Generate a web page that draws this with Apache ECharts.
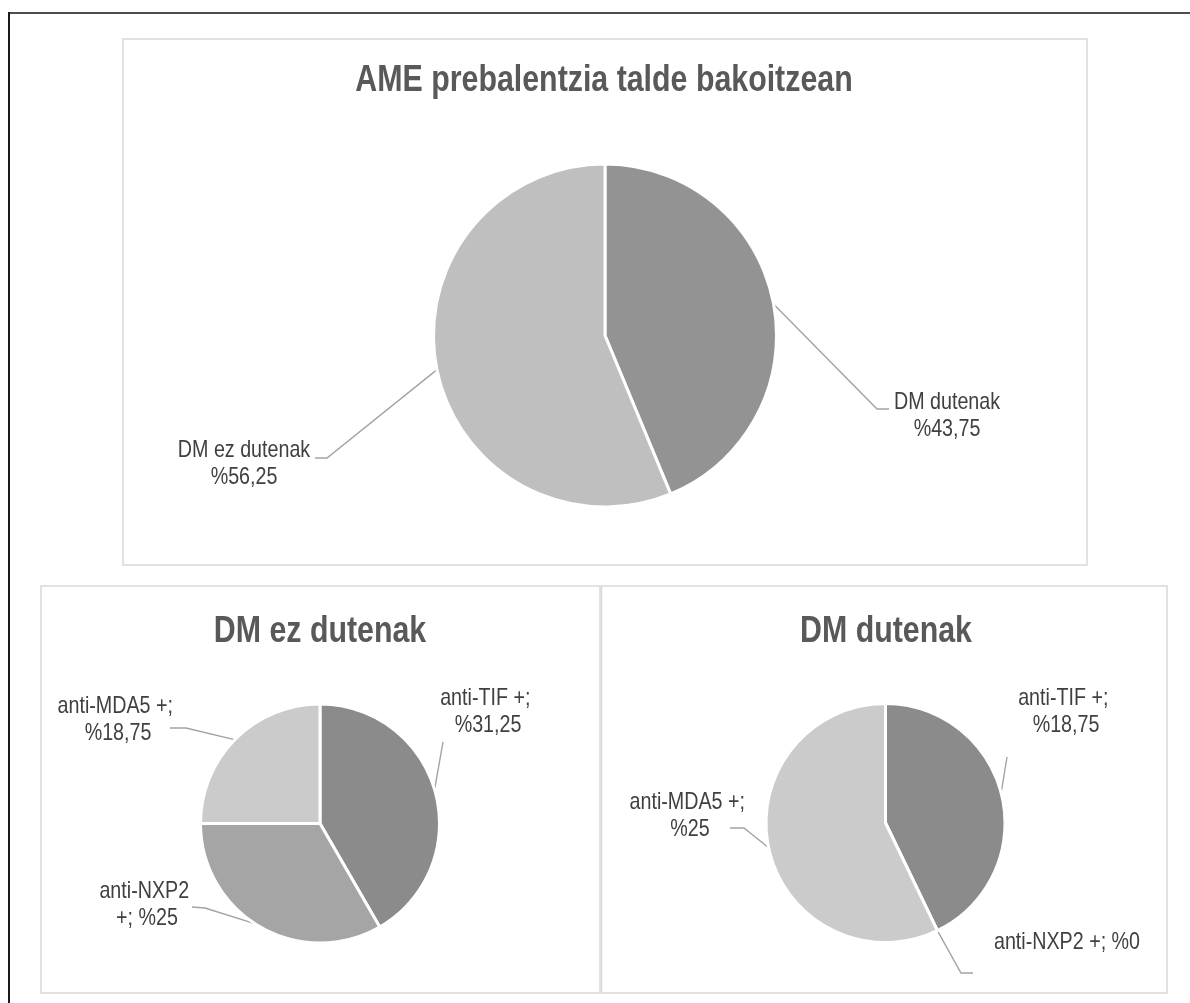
<!DOCTYPE html>
<html>
<head>
<meta charset="utf-8">
<script src="https://cdn.jsdelivr.net/npm/echarts@6/dist/echarts.min.js"></script>
<style>
  html, body { margin: 0; padding: 0; background: #ffffff; }
  #chart { width: 1190px; height: 1003px; }
</style>
</head>
<body>
<div id="chart"></div>
<script>
// AME prevalence per group, and the antibody split inside each group (percent of all patients)
const groupNames = ['DM dutenak', 'DM ez dutenak'];
const groupShares = [43.75, 56.25];
const antibodyNames = ['anti-TIF +', 'anti-NXP2 +', 'anti-MDA5 +'];
const sharesWithoutDM = [31.25, 25, 18.75];
const sharesWithDM = [18.75, 0, 25];
const chartTitles = ['AME prebalentzia talde bakoitzean', 'DM ez dutenak', 'DM dutenak'];

const FONT = "'Liberation Sans', Arial, sans-serif";
// horizontal squeeze that gives the regular face the proportions of a narrow face
const NARROW = 0.82;
const TITLE_COLOR = '#595959';
const LABEL_COLOR = '#404040';
const LEADER_COLOR = '#a3a3a3';
const groupColors = ['#939393', '#bfbfbf'];
const antibodyColors = ['#8b8b8b', '#a5a5a5', '#cbcbcb'];

// decimal comma, percent sign in front
const pct = v => '%' + String(v).replace('.', ',');

// pie geometry: centre and outer radius (the white slice outline eats half its width)
const pies = [
  { center: [605, 335.5], radius: 171.5, gap: 3 },
  { center: [320, 823.5], radius: 119.5, gap: 3 },
  { center: [885.5, 823], radius: 119.5, gap: 3 }
];

// label block centre, leader-line bend/end points and wrap width, per pie and slice
const labelPlacement = [
  [
    { at: [947, 416], bend: [877, 409], end: [889, 409] },
    { at: [244, 464], bend: [327, 458], end: [315, 458] }
  ],
  [
    { at: [488, 712], bend: [443, 742], end: [443, 742], width: 130 },
    { at: [147, 905], bend: [205, 908], end: [192, 907], width: 120 },
    { at: [118, 720], bend: [186, 728], end: [170, 728], width: 150 }
  ],
  [
    { at: [1066, 712], bend: [1007, 757], end: [1007, 757], width: 130 },
    { at: [1067, 942], bend: [961, 973], end: [973, 973], width: 260 },
    { at: [690, 816], bend: [744, 828], end: [730, 828], width: 150 }
  ]
];

function edgePoint(k, values, i) {
  const total = values.reduce((a, b) => a + b, 0);
  let before = 0;
  for (let j = 0; j < i; j++) before += values[j];
  const ang = (before + values[i] / 2) / total * 2 * Math.PI;
  const p = pies[k];
  const r = p.radius - p.gap / 2;
  return [p.center[0] + r * Math.sin(ang), p.center[1] - r * Math.cos(ang)];
}

function makePie(k, names, values, colors, formatter) {
  return {
    type: 'pie',
    center: pies[k].center,
    radius: [0, pies[k].radius],
    startAngle: 90,
    clockwise: true,
    avoidLabelOverlap: false,
    minShowLabelAngle: 0,
    animation: false,
    silent: true,
    itemStyle: { borderColor: '#ffffff', borderWidth: pies[k].gap },
    label: {
      show: true,
      position: 'outside',
      formatter: formatter,
      fontFamily: FONT,
      fontSize: 24,
      lineHeight: 27,
      color: LABEL_COLOR,
      align: 'center'
    },
    labelLine: {
      show: true,
      length: 10,
      length2: 10,
      lineStyle: { color: LEADER_COLOR, width: 1.4 }
    },
    labelLayout: function (params) {
      const L = labelPlacement[k][params.dataIndex];
      return {
        x: L.at[0],
        y: L.at[1],
        align: 'center',
        verticalAlign: 'middle',
        labelLinePoints: [edgePoint(k, values, params.dataIndex), L.bend, L.end]
      };
    },
    data: names.map((n, i) => {
      const item = { name: n, value: values[i], itemStyle: { color: colors[i] } };
      const w = labelPlacement[k][i].width;
      if (w) item.label = { width: w, overflow: 'break' };
      return item;
    })
  };
}

const titleStyle = { fontFamily: FONT, fontSize: 37, fontWeight: 'bold', color: TITLE_COLOR };
const titleCentres = [[604, 80.5], [320, 632], [886, 632]];

const boxStyle = { fill: 'none', stroke: '#d9d9d9', lineWidth: 1.5 };

const option = {
  backgroundColor: '#ffffff',
  animation: false,
  title: chartTitles.map((t, i) => ({
    text: t,
    left: titleCentres[i][0],
    top: titleCentres[i][1],
    textAlign: 'center',
    textVerticalAlign: 'middle',
    padding: 0,
    textStyle: titleStyle
  })),
  graphic: [
    // outer frame (top and left edges)
    { type: 'line', shape: { x1: 9, y1: 13, x2: 1190, y2: 13 }, style: { stroke: '#4d4d4d', lineWidth: 2 } },
    { type: 'line', shape: { x1: 9, y1: 12, x2: 9, y2: 1003 }, style: { stroke: '#1a1a1a', lineWidth: 2 } },
    // chart area boxes
    { type: 'rect', shape: { x: 123, y: 39, width: 964, height: 526 }, style: boxStyle },
    { type: 'rect', shape: { x: 41, y: 586, width: 559, height: 407 }, style: boxStyle },
    { type: 'rect', shape: { x: 601.5, y: 586, width: 565.5, height: 407 }, style: boxStyle }
  ],
  series: [
    makePie(0, groupNames, groupShares, groupColors, p => p.name + '\n' + pct(p.value)),
    makePie(1, antibodyNames, sharesWithoutDM, antibodyColors, p => p.name + '; ' + pct(p.value)),
    makePie(2, antibodyNames, sharesWithDM, antibodyColors, p => p.name + '; ' + pct(p.value))
  ]
};

const chart = echarts.init(document.getElementById('chart'), null, { renderer: 'canvas' });
chart.setOption(option);

// squeeze every text element horizontally about its own anchor
function condenseText() {
  const zr = chart.getZr();
  const list = zr.storage.getDisplayList(true);
  const texts = new Set();
  list.forEach(el => {
    let p = el;
    while (p && p.type !== 'text') p = p.parent;
    if (p) texts.add(p);
  });
  let changed = false;
  texts.forEach(t => {
    if (t.scaleX !== NARROW) {
      t.scaleX = NARROW;
      t.markRedraw();
      if (t.__hostTarget) t.__hostTarget.markRedraw();
      changed = true;
    }
  });
  if (changed) zr.refreshImmediately();
}
condenseText();
chart.on('finished', condenseText);
</script>
</body>
</html>
